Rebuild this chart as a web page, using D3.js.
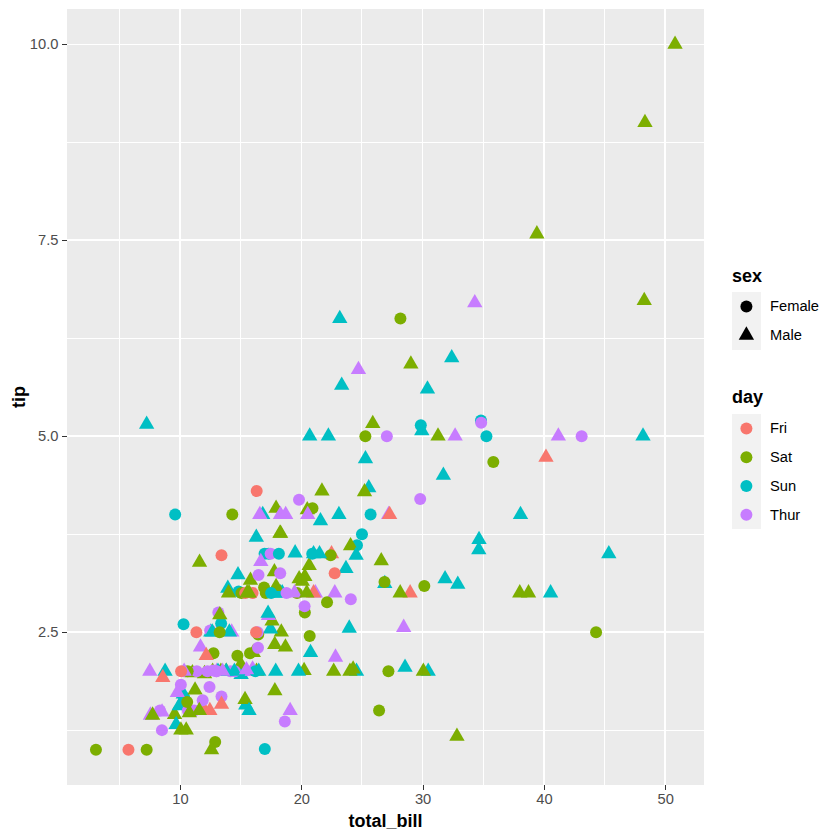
<!DOCTYPE html>
<html>
<head>
<meta charset="utf-8">
<script src="https://cdn.jsdelivr.net/npm/d3@7/dist/d3.min.js"></script>
<style>
  html, body { margin: 0; padding: 0; background: #ffffff; }
  svg { display: block; font-family: "Liberation Sans", Arial, sans-serif; }
</style>
</head>
<body>
<svg id="chart" width="840" height="840"></svg>
<script>
// ---- data (tips dataset: total_bill, tip, sex, day) ----
const totalBill = [
  16.99,10.34,21.01,23.68,24.59,25.29,8.77,26.88,15.04,14.78,10.27,35.26,15.42,18.43,14.83,21.58,10.33,16.29,16.97,
  20.65,17.92,20.29,15.77,39.42,19.82,17.81,13.37,12.69,21.7,19.65,9.55,18.35,15.06,20.69,17.78,24.06,16.31,16.93,18.69,31.27,16.04,
  17.46,13.94,9.68,30.4,18.29,22.23,32.4,28.55,18.04,12.54,10.29,34.81,9.94,25.56,19.49,
  38.01,26.41,11.24,48.27,20.29,13.81,11.02,18.29,17.59,20.08,16.45,3.07,20.23,15.01,12.02,17.07,26.86,25.28,14.73,10.51,17.92,
  27.2,22.76,17.29,19.44,16.66,10.07,32.68,15.98,34.83,13.03,18.28,24.71,21.16,
  28.97,22.49,5.75,16.32,22.75,40.17,27.28,12.03,21.01,12.46,11.35,15.38,
  44.3,22.42,20.92,15.36,20.49,25.21,18.24,14.31,14.0,7.25,
  38.07,23.95,25.71,17.31,29.93,
  10.65,12.43,24.08,11.69,13.42,14.26,15.95,12.48,29.8,8.52,14.52,11.38,22.82,19.08,20.27,11.17,12.26,18.26,8.51,10.33,14.15,16.0,13.16,17.47,34.3,41.19,27.05,16.43,8.35,18.64,11.87,9.78,7.51,
  14.07,13.13,17.26,24.55,19.77,29.85,48.17,25.0,13.39,16.49,21.5,12.66,16.21,13.81,17.51,24.52,20.76,31.71,
  10.59,10.63,50.81,15.81,
  7.25,31.85,16.82,32.9,17.89,14.48,9.6,34.63,34.65,23.33,45.35,23.17,40.55,20.69,20.9,30.46,18.15,23.1,15.69,
  19.81,28.44,15.48,16.58,7.56,10.34,43.11,13.0,13.51,18.71,12.74,13.0,16.4,20.53,16.47,
  26.59,38.73,24.27,12.76,30.06,25.89,48.33,13.27,28.17,12.9,28.15,11.59,7.74,30.14,
  12.16,13.42,8.58,15.98,13.42,16.27,10.09,
  20.45,13.28,22.12,24.01,15.69,11.61,10.77,15.53,10.07,12.6,32.83,35.83,29.03,27.18,22.67,17.82,
  18.78];
const tipValues = [
  1.01,1.66,3.5,3.31,3.61,4.71,2.0,3.12,1.96,3.23,1.71,5.0,1.57,3.0,3.02,3.92,1.67,3.71,3.5,
  3.35,4.08,2.75,2.23,7.58,3.18,2.34,2.0,2.0,4.3,3.0,1.45,2.5,3.0,2.45,3.27,3.6,2.0,3.07,2.31,5.0,2.24,
  2.54,3.06,1.32,5.6,3.0,5.0,6.0,2.05,3.0,2.5,2.6,5.2,1.56,4.34,3.51,
  3.0,1.5,1.76,6.73,3.21,2.0,1.98,3.76,2.64,3.15,2.47,1.0,2.01,2.09,1.97,3.0,3.14,5.0,2.2,1.25,3.08,
  4.0,3.0,2.71,3.0,3.4,1.83,5.0,2.03,5.17,2.0,4.0,5.85,3.0,
  3.0,3.5,1.0,4.3,3.25,4.73,4.0,1.5,3.0,1.5,2.5,3.0,
  2.5,3.48,4.08,1.64,4.06,4.29,3.76,4.0,3.0,1.0,
  4.0,2.55,4.0,3.5,5.07,
  1.5,1.8,2.92,2.31,1.68,2.5,2.0,2.52,4.2,1.48,2.0,2.0,2.18,1.5,2.83,1.5,2.0,3.25,1.25,2.0,2.0,2.0,2.75,3.5,6.7,5.0,5.0,2.3,1.5,1.36,1.63,1.73,2.0,
  2.5,2.0,2.74,2.0,2.0,5.14,5.0,3.75,2.61,2.0,3.5,2.5,2.0,2.0,3.0,3.48,2.24,4.5,
  1.61,2.0,10.0,3.16,
  5.15,3.18,4.0,3.11,2.0,2.0,4.0,3.55,3.68,5.65,3.5,6.5,3.0,5.0,3.5,2.0,3.5,4.0,1.5,
  4.19,2.56,2.02,4.0,1.44,2.0,5.0,2.0,2.0,4.0,2.01,2.0,2.5,4.0,3.23,
  3.41,3.0,2.03,2.23,2.0,5.16,9.0,2.5,6.5,1.1,3.0,1.5,1.44,3.09,
  2.2,3.48,1.92,3.0,1.58,2.5,2.0,
  3.0,2.72,2.88,2.0,3.0,3.39,1.47,3.0,1.25,1.0,1.17,4.67,5.92,2.0,2.0,1.75,
  3.0];
const sexValues = [
  "Female","Male","Male","Male","Female","Male","Male","Male","Male","Male","Male","Female","Male","Male","Female","Male","Female","Male","Female",
  "Male","Male","Female","Female","Male","Male","Male","Male","Male","Male","Female","Male","Male","Female","Female","Male","Male","Male","Female","Male","Male","Male",
  "Male","Male","Male","Male","Male","Male","Male","Male","Male","Male","Female","Female","Male","Male","Male",
  "Male","Female","Male","Male","Male","Male","Male","Male","Male","Male","Female","Female","Male","Male","Male","Female","Female","Female","Female","Male","Male",
  "Male","Male","Male","Male","Male","Female","Male","Male","Female","Male","Male","Male","Male",
  "Male","Male","Female","Female","Female","Male","Male","Male","Male","Male","Female","Female",
  "Female","Female","Female","Male","Male","Male","Male","Female","Male","Female",
  "Male","Male","Female","Female","Male",
  "Female","Female","Female","Male","Female","Male","Male","Female","Female","Male","Female","Female","Male","Male","Female","Female","Female","Female","Female","Female","Female","Male","Female","Female","Male","Male","Female","Female","Female","Female","Female","Male","Male",
  "Male","Male","Male","Male","Male","Female","Male","Female","Female","Male","Male","Male","Female","Male","Female","Male","Male","Male",
  "Female","Female","Male","Male",
  "Male","Male","Male","Male","Male","Male","Female","Male","Male","Male","Male","Male","Male","Male","Female","Male","Female","Male","Male",
  "Female","Male","Male","Male","Male","Male","Female","Female","Male","Male","Female","Female","Female","Male","Female",
  "Male","Male","Male","Female","Male","Male","Male","Female","Female","Female","Male","Male","Male","Female",
  "Male","Female","Male","Female","Male","Female","Female",
  "Male","Male","Female","Male","Male","Male","Male","Male","Male","Male","Male","Female","Male","Female","Male","Male",
  "Female"];
const dayValues = [
  "Sun","Sun","Sun","Sun","Sun","Sun","Sun","Sun","Sun","Sun","Sun","Sun","Sun","Sun","Sun","Sun","Sun","Sun","Sun",
  "Sat","Sat","Sat","Sat","Sat","Sat","Sat","Sat","Sat","Sat","Sat","Sat","Sat","Sat","Sat","Sat","Sat","Sat","Sat","Sat","Sat","Sat",
  "Sun","Sun","Sun","Sun","Sun","Sun","Sun","Sun","Sun","Sun","Sun","Sun","Sun","Sun","Sun",
  "Sat","Sat","Sat","Sat","Sat","Sat","Sat","Sat","Sat","Sat","Sat","Sat","Sat","Sat","Sat","Sat","Sat","Sat","Sat","Sat","Sat",
  "Thur","Thur","Thur","Thur","Thur","Thur","Thur","Thur","Thur","Thur","Thur","Thur","Thur",
  "Fri","Fri","Fri","Fri","Fri","Fri","Fri","Fri","Fri","Fri","Fri","Fri",
  "Sat","Sat","Sat","Sat","Sat","Sat","Sat","Sat","Sat","Sat",
  "Sun","Sun","Sun","Sun","Sun",
  "Thur","Thur","Thur","Thur","Thur","Thur","Thur","Thur","Thur","Thur","Thur","Thur","Thur","Thur","Thur","Thur","Thur","Thur","Thur","Thur","Thur","Thur","Thur","Thur","Thur","Thur","Thur","Thur","Thur","Thur","Thur","Thur","Thur",
  "Sun","Sun","Sun","Sun","Sun","Sun","Sun","Sun","Sun","Sun","Sun","Sun","Sun","Sun","Sun","Sun","Sun","Sun",
  "Sat","Sat","Sat","Sat",
  "Sun","Sun","Sun","Sun","Sun","Sun","Sun","Sun","Sun","Sun","Sun","Sun","Sun","Sun","Sun","Sun","Sun","Sun","Sun",
  "Thur","Thur","Thur","Thur","Thur","Thur","Thur","Thur","Thur","Thur","Thur","Thur","Thur","Thur","Thur",
  "Sat","Sat","Sat","Sat","Sat","Sat","Sat","Sat","Sat","Sat","Sat","Sat","Sat","Sat",
  "Fri","Fri","Fri","Fri","Fri","Fri","Fri",
  "Sat","Sat","Sat","Sat","Sat","Sat","Sat","Sat","Sat","Sat","Sat","Sat","Sat","Sat","Sat","Sat",
  "Thur"];

const sexLevels = ["Female", "Male"];
const dayLevels = ["Fri", "Sat", "Sun", "Thur"];
const dayColors = ["#F8766D", "#7CAE00", "#00BFC4", "#C77CFF"];
const xTicks = [10, 20, 30, 40, 50];
const xMinor = [5, 15, 25, 35, 45];
const yTicks = [2.5, 5.0, 7.5, 10.0];
const yMinor = [1.25, 3.75, 6.25, 8.75];
const xTitle = "total_bill";
const yTitle = "tip";

// ---- layout ----
const panel = { left: 67, right: 704, top: 9, bottom: 785 };
const svg = d3.select("#chart");

const xExt = d3.extent(totalBill), yExt = d3.extent(tipValues);
const xPad = (xExt[1] - xExt[0]) * 0.05, yPad = (yExt[1] - yExt[0]) * 0.05;
const x = d3.scaleLinear().domain([xExt[0] - xPad, xExt[1] + xPad]).range([panel.left, panel.right]);
const y = d3.scaleLinear().domain([yExt[0] - yPad, yExt[1] + yPad]).range([panel.bottom, panel.top]);
const color = d3.scaleOrdinal().domain(dayLevels).range(dayColors);
const shapeArea = d3.scaleOrdinal().domain(sexLevels).range([Math.PI * 6 * 6, Math.PI * 5.7 * 5.7]);
const shapeType = d3.scaleOrdinal().domain(sexLevels).range([d3.symbolCircle, d3.symbolTriangle]);
const sym = s => d3.symbol().type(shapeType(s)).size(shapeArea(s))();

// panel background
svg.append("rect").attr("x", panel.left).attr("y", panel.top)
  .attr("width", panel.right - panel.left).attr("height", panel.bottom - panel.top)
  .attr("fill", "#EBEBEB");

const grid = svg.append("g").attr("shape-rendering", "crispEdges");
grid.selectAll(".xm").data(xMinor).join("line")
  .attr("x1", d => x(d)).attr("x2", d => x(d)).attr("y1", panel.top).attr("y2", panel.bottom)
  .attr("stroke", "#fff").attr("stroke-width", 1);
grid.selectAll(".ym").data(yMinor).join("line")
  .attr("y1", d => y(d)).attr("y2", d => y(d)).attr("x1", panel.left).attr("x2", panel.right)
  .attr("stroke", "#fff").attr("stroke-width", 1);
grid.selectAll(".xM").data(xTicks).join("line")
  .attr("x1", d => x(d)).attr("x2", d => x(d)).attr("y1", panel.top).attr("y2", panel.bottom)
  .attr("stroke", "#fff").attr("stroke-width", 1.5);
grid.selectAll(".yM").data(yTicks).join("line")
  .attr("y1", d => y(d)).attr("y2", d => y(d)).attr("x1", panel.left).attr("x2", panel.right)
  .attr("stroke", "#fff").attr("stroke-width", 1.5);

// axes
const xAxis = svg.append("g").attr("transform", `translate(0,${panel.bottom})`)
  .call(d3.axisBottom(x).tickValues(xTicks).tickSize(4.6).tickPadding(4).tickFormat(d3.format("d")));
const yAxis = svg.append("g").attr("transform", `translate(${panel.left},0)`)
  .call(d3.axisLeft(y).tickValues(yTicks).tickSize(4.6).tickPadding(4).tickFormat(d3.format(".1f")));
[xAxis, yAxis].forEach(a => {
  a.select(".domain").remove();
  a.selectAll(".tick line").attr("stroke", "#333333").attr("stroke-width", 1).attr("shape-rendering", "crispEdges");
  a.selectAll(".tick text").attr("fill", "#4D4D4D").attr("font-size", "14.7px")
    .attr("font-family", "'Liberation Sans', Arial, sans-serif");
});

// axis titles
svg.append("text").attr("x", (panel.left + panel.right) / 2).attr("y", 827)
  .attr("text-anchor", "middle").attr("font-size", "18px").attr("font-weight", "bold")
  .attr("fill", "#000").text(xTitle);
svg.append("text").attr("transform", `translate(25,${(panel.top + panel.bottom) / 2}) rotate(-90)`)
  .attr("text-anchor", "middle").attr("font-size", "18px").attr("font-weight", "bold")
  .attr("fill", "#000").text(yTitle);

// points
const idx = d3.range(totalBill.length);
svg.append("g").selectAll("path").data(idx).join("path")
  .attr("transform", i => `translate(${x(totalBill[i])},${y(tipValues[i])})`)
  .attr("d", i => sym(sexValues[i]))
  .attr("fill", i => color(dayValues[i]));

// legends
const keyX = 732, keyW = 28.8, keyH = 28.8, labelX = 770;
function legend(title, titleY, keyTop, levels, drawKey) {
  const g = svg.append("g");
  g.append("text").attr("x", keyX).attr("y", titleY).attr("font-size", "18px")
    .attr("font-weight", "bold").attr("fill", "#000").text(title);
  levels.forEach((lv, k) => {
    const cy = keyTop + k * keyH + keyH / 2;
    g.append("rect").attr("x", keyX).attr("y", keyTop + k * keyH).attr("width", keyW).attr("height", keyH)
      .attr("fill", "#F2F2F2").attr("shape-rendering", "crispEdges");
    g.append("path").attr("transform", `translate(${keyX + keyW / 2},${cy})`)
      .attr("d", drawKey.d(lv)).attr("fill", drawKey.fill(lv));
    g.append("text").attr("x", labelX).attr("y", cy + 5).attr("font-size", "14.7px")
      .attr("fill", "#000").text(lv);
  });
}
legend("sex", 282, 292, sexLevels, { d: s => sym(s), fill: () => "#000" });
legend("day", 403, 414, dayLevels, { d: () => sym("Female"), fill: d => color(d) });
</script>
</body>
</html>
